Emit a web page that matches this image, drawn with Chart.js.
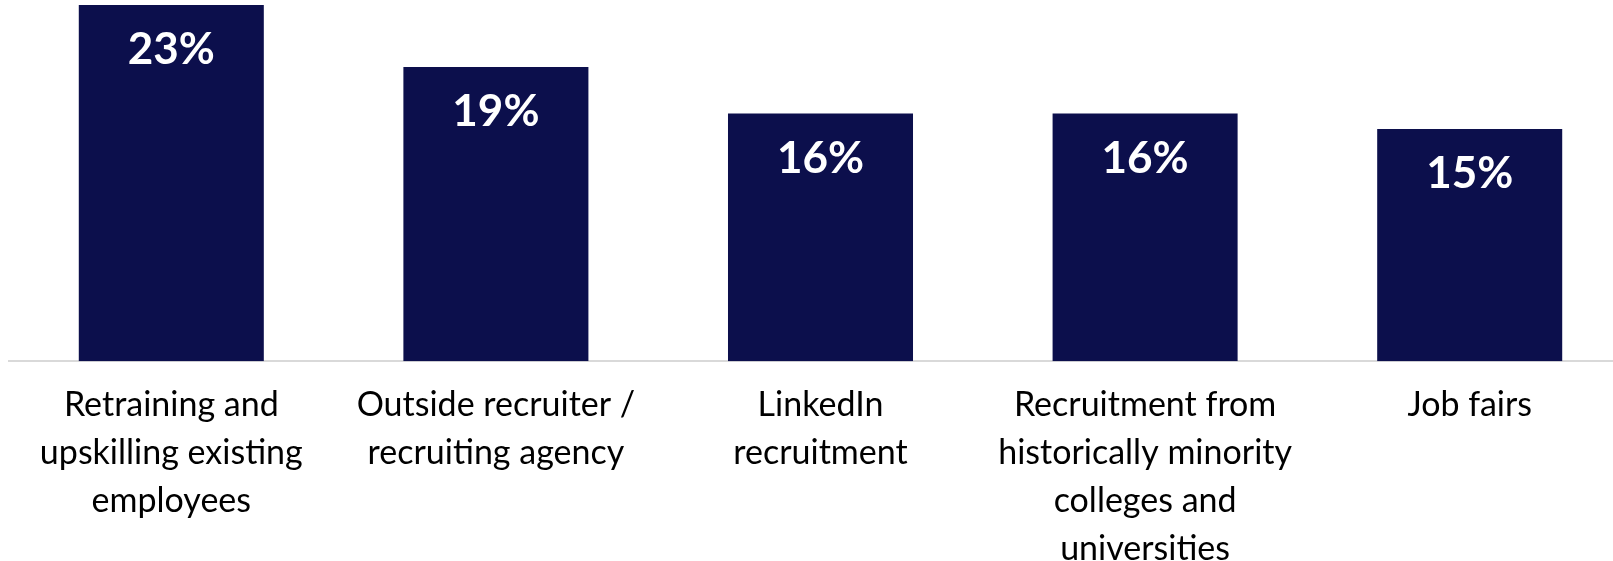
<!DOCTYPE html>
<html>
<head>
<meta charset="utf-8">
<script src="https://cdn.jsdelivr.net/npm/chart.js@4/dist/chart.umd.min.js"></script>
<style>
  html, body { margin: 0; padding: 0; background: #fff; overflow: hidden; }
  #wrap { width: 1613px; height: 561px; overflow: hidden; }
</style>
</head>
<body>
<div id="wrap"><canvas id="chart" width="1632" height="593"></canvas></div>
<script>
// recruiting channels, one label line per array entry
const categories = [
    ["Retraining and", "upskilling existing", "employees"],
    ["Outside recruiter /", "recruiting agency"],
    ["LinkedIn", "recruitment"],
    ["Recruitment from", "historically minority", "colleges and", "universities"],
    ["Job fairs"]
];
const shares = [23, 19, 16, 16, 15];

const barColor = '#0c0f4c';

// white percentage inside the top of each bar
const valueLabels = {
    id: 'valueLabels',
    afterDatasetsDraw(chart) {
        const ctx = chart.ctx;
        const meta = chart.getDatasetMeta(0);
        ctx.save();
        ctx.fillStyle = '#ffffff';
        ctx.font = 'bold 44px Lato';
        ctx.textAlign = 'center';
        ctx.textBaseline = 'middle';
        meta.data.forEach((bar, i) => {
            ctx.fillText(shares[i] + '%', bar.x, bar.y + 45);
        });
        ctx.restore();
    }
};

new Chart(document.getElementById('chart').getContext('2d'), {
    type: 'bar',
    data: {
        labels: categories,
        datasets: [{
            data: shares,
            backgroundColor: barColor,
            borderWidth: 0,
            categoryPercentage: 1.0,
            barPercentage: 0.57
        }]
    },
    options: {
        responsive: false,
        animation: false,
        layout: { padding: { top: 5, left: 9, right: 0, bottom: 0 } },
        plugins: {
            legend: { display: false },
            tooltip: { enabled: false }
        },
        scales: {
            x: {
                grid: { display: false, drawTicks: false },
                border: { display: true, color: '#d9d9d9', width: 2 },
                ticks: {
                    color: '#000000',
                    padding: 20,
                    maxRotation: 0,
                    autoSkip: false,
                    font: { family: 'Lato', size: 34, lineHeight: 1.41 }
                }
            },
            y: {
                display: false,
                min: 0,
                max: 23
            }
        }
    },
    plugins: [valueLabels]
});
</script>
</body>
</html>
